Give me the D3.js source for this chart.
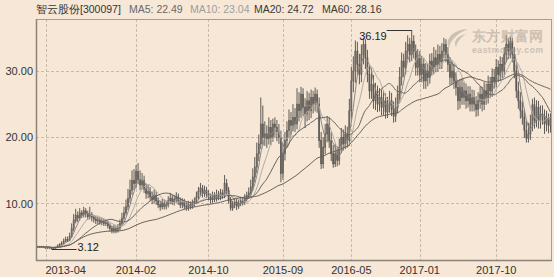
<!DOCTYPE html>
<html>
<head>
<meta charset="utf-8">
<script src="https://cdn.jsdelivr.net/npm/d3@7"></script>
<style>
body { margin: 0; background: #f6e7d6; }
text { font-family: "Liberation Sans", Arial, sans-serif; }
</style>
</head>
<body>
<div id="chart"></div>
<script>
// weekly candles
var opens = [
  3.4, 3.5, 3.4, 3.5, 3.4, 3.3, 3.4, 3.3, 3.2, 3.3,
  3.4, 3.6, 3.8, 4.0, 4.3, 4.6, 4.5, 5.0, 6.2, 7.4,
  8.2, 7.8, 8.6, 8.3, 8.9, 8.5, 8.0, 8.3, 7.9, 7.6,
  7.4, 7.5, 7.2, 7.3, 7.0, 7.1, 6.6, 6.2, 5.9, 6.2,
  5.9, 6.3, 7.0, 7.8, 8.6, 9.5, 10.8, 12.0, 13.5, 13.0,
  14.8, 13.6, 12.8, 13.5, 12.2, 11.5, 11.8, 11.0, 10.6, 11.2,
  10.4, 9.8, 9.5, 10.0, 9.6, 9.8, 10.4, 10.8, 10.2, 10.6,
  11.0, 10.3, 9.8, 10.2, 9.6, 9.4, 9.8, 9.6, 10.0, 10.3,
  11.0, 11.8, 12.3, 11.5, 12.0, 11.4, 11.0, 10.6, 11.2, 10.8,
  11.4, 11.0, 11.6, 11.2, 13.0, 12.0, 10.5, 9.3, 9.8, 10.2,
  9.6, 10.0, 10.4, 10.2, 10.8, 11.2, 11.6, 12.5, 14.0, 15.5,
  17.5, 19.0, 22.0, 20.0, 20.5, 19.8, 21.5, 20.0, 22.0, 21.5,
  20.8, 20.0, 14.5, 17.5, 19.5, 21.0, 22.5, 21.8, 23.0, 22.0,
  25.0, 24.0, 26.5, 24.5, 23.5, 25.5, 24.0, 26.0, 25.0, 26.5,
  25.0, 19.5, 16.0, 18.5, 20.5, 22.0, 19.5, 17.5, 16.0, 17.5,
  16.5, 18.5, 20.0, 19.0, 20.5, 19.5, 24.0, 28.5, 30.0, 33.0,
  31.0, 29.5, 32.5, 34.0, 32.0, 29.5, 27.0, 28.0, 25.5, 26.5,
  25.0, 26.0, 24.5, 25.5, 23.8, 24.8, 25.5, 24.2, 23.2, 24.5,
  26.5, 29.0, 31.5, 30.5, 33.0, 34.0, 32.5, 34.5, 33.0, 30.5,
  32.0, 29.5, 31.0, 28.5, 30.0, 29.0, 31.5, 30.5, 32.0, 31.0,
  32.5, 31.5, 33.0, 34.0, 32.5, 31.0, 29.0, 30.0, 28.5, 27.5,
  25.5, 27.5, 26.0, 27.0, 25.5, 26.5, 25.0, 26.0, 25.0, 24.2,
  25.5, 26.5, 25.0, 27.0, 26.0, 28.0, 27.0, 29.0, 28.5, 30.5,
  29.5, 31.0, 30.0, 32.5, 34.0, 33.0, 34.5, 32.5, 30.0, 27.0,
  25.5, 24.0, 23.0, 21.0, 19.8, 20.5, 22.0, 24.9, 22.5, 24.5,
  22.5, 23.5, 23.2, 22.0, 22.8, 21.8
];
var closes = [
  3.5, 3.4, 3.5, 3.4, 3.3, 3.4, 3.3, 3.2, 3.3, 3.4,
  3.6, 3.8, 4.0, 4.3, 4.6, 4.5, 5.0, 6.2, 7.5, 8.2,
  7.8, 8.6, 8.3, 8.9, 8.5, 8.0, 8.3, 7.9, 7.6, 7.4,
  7.5, 7.2, 7.3, 7.0, 7.1, 6.6, 6.2, 5.9, 6.2, 5.9,
  6.3, 7.0, 7.8, 8.6, 9.5, 10.8, 12.0, 13.5, 13.0, 14.8,
  13.6, 12.8, 13.5, 12.2, 11.5, 11.8, 11.0, 10.6, 11.2, 10.4,
  9.8, 9.5, 10.0, 9.6, 9.8, 10.4, 10.8, 10.2, 10.6, 11.0,
  10.3, 9.8, 10.2, 9.6, 9.4, 9.8, 9.6, 10.0, 10.3, 11.0,
  11.8, 12.3, 11.5, 12.0, 11.4, 11.0, 10.6, 11.2, 10.8, 11.4,
  11.0, 11.6, 11.2, 13.0, 12.0, 10.5, 9.3, 9.8, 10.2, 9.6,
  10.0, 10.4, 10.2, 10.8, 11.2, 11.6, 12.5, 14.0, 15.5, 17.5,
  19.0, 22.0, 20.0, 20.5, 19.8, 21.5, 20.0, 22.0, 21.5, 20.8,
  20.0, 14.5, 17.5, 19.5, 21.0, 22.5, 21.8, 23.0, 22.0, 25.0,
  24.0, 26.5, 24.5, 23.5, 25.5, 24.0, 26.0, 25.0, 26.5, 25.0,
  19.5, 16.0, 18.5, 20.5, 22.0, 19.5, 17.5, 16.0, 17.5, 16.5,
  18.5, 20.0, 19.0, 20.5, 19.5, 24.0, 28.5, 30.0, 33.0, 31.0,
  29.5, 32.5, 34.0, 32.0, 29.5, 27.0, 28.0, 25.5, 26.5, 25.0,
  26.0, 24.5, 25.5, 23.8, 24.8, 25.5, 24.2, 23.2, 24.5, 26.5,
  29.0, 31.5, 30.5, 33.0, 34.0, 32.5, 34.5, 33.0, 30.5, 32.0,
  29.5, 31.0, 28.5, 30.0, 29.0, 31.5, 30.5, 32.0, 31.0, 32.5,
  31.5, 33.0, 34.0, 32.5, 31.0, 29.0, 30.0, 28.5, 27.5, 25.5,
  27.5, 26.0, 27.0, 25.5, 26.5, 25.0, 26.0, 25.0, 24.2, 25.5,
  26.5, 25.0, 27.0, 26.0, 28.0, 27.0, 29.0, 28.5, 30.5, 29.5,
  31.0, 30.0, 32.5, 34.0, 33.0, 34.5, 32.5, 30.0, 27.0, 25.5,
  24.0, 23.0, 21.0, 19.8, 20.5, 22.0, 24.9, 22.5, 24.5, 22.5,
  23.5, 23.2, 22.0, 22.8, 21.8, 22.6
];
var highs = [
  3.6, 3.6, 3.6, 3.6, 3.5, 3.5, 3.5, 3.4, 3.4, 3.5,
  3.8, 4.0, 4.3, 4.7, 5.0, 5.0, 5.6, 7.0, 8.4, 9.2,
  8.8, 9.3, 9.0, 9.5, 9.3, 8.9, 9.5, 8.7, 8.3, 8.1,
  8.0, 7.9, 7.8, 7.7, 7.6, 7.4, 7.0, 6.6, 6.8, 6.6,
  6.9, 7.6, 8.6, 9.5, 10.6, 12.2, 13.6, 15.0, 15.2, 15.8,
  16.1, 15.0, 14.6, 14.2, 13.0, 12.8, 12.5, 11.8, 12.1, 11.8,
  10.9, 10.4, 10.7, 10.6, 10.4, 11.1, 11.6, 11.3, 11.2, 11.7,
  11.5, 10.9, 10.8, 10.7, 10.2, 10.4, 10.3, 10.6, 10.9, 11.8,
  12.5, 13.1, 12.8, 12.7, 12.5, 12.0, 11.5, 11.8, 11.7, 12.1,
  11.9, 12.2, 12.1, 14.3, 13.7, 12.5, 11.0, 10.4, 10.8, 10.7,
  10.6, 11.0, 10.9, 11.4, 11.8, 12.4, 13.6, 15.3, 17.0, 19.2,
  20.4, 26.0, 24.8, 22.4, 21.8, 23.0, 22.6, 22.8, 23.0, 22.6,
  22.0, 21.0, 19.2, 20.8, 22.4, 24.2, 23.8, 25.0, 24.4, 27.4,
  26.8, 27.6, 27.4, 25.9, 27.0, 26.7, 27.2, 27.0, 27.5, 27.2,
  26.0, 20.8, 20.0, 22.0, 23.2, 23.0, 20.8, 18.8, 19.0, 18.6,
  19.8, 21.4, 21.2, 21.8, 21.6, 25.8, 30.6, 32.2, 34.6, 34.4,
  32.6, 34.0, 35.0, 34.8, 33.2, 30.8, 30.4, 29.4, 28.2, 27.8,
  27.4, 27.2, 27.0, 26.6, 26.1, 27.0, 26.7, 25.4, 26.0, 27.8,
  30.6, 32.8, 32.6, 34.4, 35.4, 35.0, 36.19, 35.4, 34.0, 33.3,
  33.0, 32.3, 32.0, 31.2, 31.1, 32.6, 32.7, 33.6, 33.2, 34.0,
  33.8, 34.2, 35.0, 34.8, 33.6, 32.1, 31.5, 31.1, 29.8, 28.6,
  28.8, 28.9, 28.3, 28.1, 27.7, 27.7, 27.2, 27.1, 26.2, 26.8,
  27.7, 27.6, 28.3, 28.1, 29.3, 29.1, 30.4, 30.3, 31.8, 31.6,
  32.2, 32.1, 33.6, 35.4, 35.0, 35.2, 35.0, 33.6, 31.0, 28.4,
  26.8, 25.4, 24.2, 22.4, 22.2, 23.4, 25.8, 26.0, 25.6, 25.5,
  24.8, 24.8, 24.2, 24.0, 23.6, 23.6
];
var lows = [
  3.3, 3.3, 3.3, 3.3, 3.2, 3.2, 3.2, 3.12, 3.2, 3.2,
  3.3, 3.5, 3.7, 3.9, 4.2, 4.2, 4.3, 4.8, 5.8, 7.0,
  7.2, 7.4, 7.8, 7.9, 7.9, 7.5, 7.6, 7.3, 7.1, 6.9,
  6.9, 6.8, 6.7, 6.6, 6.6, 6.2, 5.8, 5.5, 5.5, 5.5,
  5.6, 5.9, 6.6, 7.4, 8.2, 9.0, 10.1, 11.3, 12.0, 12.3,
  12.9, 12.0, 12.1, 11.6, 10.7, 10.8, 10.4, 9.9, 10.0, 9.8,
  9.3, 8.9, 9.1, 9.1, 9.1, 9.4, 9.9, 9.8, 9.7, 10.1,
  9.8, 9.3, 9.3, 9.1, 8.9, 8.9, 9.1, 9.2, 9.5, 9.9,
  10.6, 11.2, 10.9, 11.0, 10.8, 10.5, 10.0, 10.1, 10.2, 10.3,
  10.5, 10.5, 10.7, 10.8, 11.4, 10.0, 8.9, 8.9, 9.3, 9.0,
  9.2, 9.6, 9.7, 9.8, 10.3, 10.7, 11.1, 11.9, 13.2, 14.6,
  16.4, 18.2, 18.8, 18.7, 18.4, 18.9, 18.8, 19.3, 19.9, 19.4,
  19.0, 13.2, 13.6, 16.5, 18.4, 19.9, 20.4, 20.9, 20.8, 21.2,
  22.4, 22.9, 23.2, 21.4, 22.4, 22.6, 22.9, 23.6, 23.9, 23.7,
  18.4, 15.2, 15.3, 17.4, 19.4, 18.4, 16.4, 15.4, 15.5, 15.6,
  15.8, 17.6, 18.0, 18.2, 18.4, 18.7, 22.8, 26.8, 28.2, 29.3,
  28.0, 28.3, 31.0, 30.3, 28.3, 25.8, 25.8, 24.3, 24.1, 23.8,
  23.9, 23.3, 23.3, 22.8, 22.9, 23.7, 23.2, 22.2, 22.3, 23.6,
  25.6, 27.8, 29.1, 29.5, 31.8, 31.3, 31.5, 31.9, 29.3, 29.3,
  28.3, 28.3, 27.3, 27.3, 27.7, 28.1, 29.3, 29.5, 29.8, 29.9,
  30.3, 30.3, 31.9, 31.3, 29.9, 27.9, 28.0, 27.3, 26.3, 24.1,
  24.3, 24.9, 24.9, 24.3, 24.5, 23.9, 23.9, 23.9, 23.1, 23.2,
  24.3, 23.9, 24.1, 24.9, 25.1, 25.9, 26.1, 27.3, 27.5, 28.3,
  28.5, 28.9, 29.1, 31.3, 31.8, 31.9, 31.3, 28.9, 25.9, 24.3,
  22.8, 21.9, 19.9, 19.2, 19.2, 19.6, 20.9, 21.3, 21.5, 21.3,
  21.3, 21.9, 20.5, 20.9, 20.6, 20.7
];

var tickIndex = [4, 49, 85, 122, 156, 190, 228];
var tickLabels = ["2013-04", "2014-02", "2014-10", "2015-09", "2016-05", "2017-01", "2017-10"];
var yTicks = [10, 20, 30];

var title = "智云股份[300097]";
var maPeriods = [5, 10, 20, 60];
var maLabels = ["MA5: 22.49", "MA10: 23.04", "MA20: 24.72", "MA60: 28.16"];
var maColors = ["#8a8784", "#b3aca5", "#676360", "#6a6158"];
var maTextColors = ["#6a6a6a", "#9e9e9e", "#3a3a3a", "#3a3a3a"];
var maTextX = [129, 190, 254, 322];

var svgWidth = 554;
var svgHeight = 277;
var margin = { top: 19, right: 2, bottom: 17, left: 36 };
var width = svgWidth - margin.left - margin.right;
var height = svgHeight - margin.top - margin.bottom;
var bg = "#f6e7d6";
var candleColor = "#5f5a55";

var svg = d3.select("#chart")
  .append("svg")
  .attr("width", svgWidth)
  .attr("height", svgHeight)
  .style("display", "block");

svg.append("rect")
  .attr("width", svgWidth)
  .attr("height", svgHeight)
  .attr("fill", bg);

var chartGroup = svg.append("g")
  .attr("transform", `translate(${margin.left}, ${margin.top})`);

var n = closes.length;
var xScale = d3.scaleBand()
  .domain(d3.range(n))
  .range([0, width])
  .padding(0.45);
var yScale = d3.scaleLinear()
  .domain([1.47, 37.85])
  .range([height, 0]);

var cx = i => xScale(i) + xScale.bandwidth() / 2;

// grid
chartGroup.append("g").selectAll("line")
  .data(yTicks)
  .enter()
  .append("line")
  .attr("x1", 0).attr("x2", width)
  .attr("y1", d => Math.round(yScale(d)) + 0.5)
  .attr("y2", d => Math.round(yScale(d)) + 0.5)
  .attr("stroke", "#c9b9a6")
  .attr("stroke-dasharray", "3,2");

chartGroup.append("g").selectAll("line")
  .data(tickIndex)
  .enter()
  .append("line")
  .attr("x1", d => Math.round(cx(d)) + 0.5)
  .attr("x2", d => Math.round(cx(d)) + 0.5)
  .attr("y1", 0).attr("y2", height)
  .attr("stroke", "#c9b9a6")
  .attr("stroke-dasharray", "3,2");

// candles: down filled, up hollow
var candles = chartGroup.append("g").selectAll("g")
  .data(d3.range(n))
  .enter()
  .append("g");

candles.append("line")
  .attr("x1", i => cx(i)).attr("x2", i => cx(i))
  .attr("y1", i => yScale(highs[i]))
  .attr("y2", i => yScale(lows[i]))
  .attr("stroke", candleColor)
  .attr("stroke-width", 1);

candles.append("rect")
  .attr("x", i => xScale(i))
  .attr("width", xScale.bandwidth())
  .attr("y", i => yScale(Math.max(opens[i], closes[i])))
  .attr("height", i => Math.max(1, Math.abs(yScale(opens[i]) - yScale(closes[i]))))
  .attr("fill", i => closes[i] >= opens[i] ? "#807a74" : candleColor)
  .attr("stroke", candleColor)
  .attr("stroke-width", 0.6);

// moving averages over the visible closes
maPeriods.forEach(function(p, k) {
  var ma = closes.map(function(c, i) {
    return d3.mean(closes.slice(Math.max(0, i - p + 1), i + 1));
  });
  var line = d3.line()
    .x((d, i) => cx(i))
    .y(d => yScale(d))
    .curve(d3.curveMonotoneX);
  chartGroup.append("path")
    .datum(ma)
    .attr("d", line)
    .attr("fill", "none")
    .attr("stroke", maColors[k])
    .attr("stroke-width", 1);
});

// frame
chartGroup.append("rect")
  .attr("x", 0.5).attr("y", 0.5)
  .attr("width", width - 1).attr("height", height)
  .attr("fill", "none")
  .attr("stroke", "#a89d90");
chartGroup.append("path")
  .attr("d", `M0.5,0V${height}.5H${width}`)
  .attr("fill", "none")
  .attr("stroke", "#8d8277")
  .attr("stroke-width", 1.5);

// axes
var leftAxis = d3.axisLeft(yScale)
  .tickValues(yTicks)
  .tickFormat(d3.format(".2f"))
  .tickSize(0)
  .tickPadding(3);
var yAxis = chartGroup.append("g").call(leftAxis);
yAxis.select(".domain").remove();
yAxis.selectAll("text")
  .attr("font-size", "11px")
  .attr("font-family", "Liberation Sans, Arial, sans-serif")
  .attr("fill", "#333");

var bottomAxis = d3.axisBottom(xScale)
  .tickValues(tickIndex)
  .tickFormat((d, i) => tickLabels[i])
  .tickSize(0)
  .tickPadding(6);
var xAxis = chartGroup.append("g")
  .attr("transform", `translate(0, ${height})`)
  .call(bottomAxis);
xAxis.select(".domain").remove();
xAxis.selectAll("text")
  .attr("font-size", "11px")
  .attr("font-family", "Liberation Sans, Arial, sans-serif")
  .attr("fill", "#333")
  .attr("text-anchor", (d, i) => i === 0 ? "start" : "middle");

// high / low markers
var hi = d3.maxIndex(highs);
var lo = d3.minIndex(lows);
var hy = Math.round(yScale(highs[hi])) + 0.5;
chartGroup.append("path")
  .attr("d", `M${cx(hi)},${hy}H${cx(hi) - 25}`)
  .attr("stroke", "#333").attr("fill", "none");
chartGroup.append("text")
  .attr("x", cx(hi) - 25).attr("y", hy + 9)
  .attr("text-anchor", "end")
  .attr("font-size", "11px")
  .attr("fill", "#222")
  .text(d3.format(".2f")(highs[hi]));

var ly = Math.round(yScale(lows[lo])) + 0.5;
chartGroup.append("path")
  .attr("d", `M${cx(lo)},${ly}H${cx(lo) + 25}`)
  .attr("stroke", "#333").attr("fill", "none");
chartGroup.append("text")
  .attr("x", cx(lo) + 26).attr("y", ly + 1)
  .attr("font-size", "11px")
  .attr("fill", "#222")
  .text(d3.format(".2f")(lows[lo]));

// header
svg.append("text")
  .attr("x", 36).attr("y", 13)
  .attr("font-size", "10.5px")
  .attr("fill", "#333")
  .text(title);
maLabels.forEach(function(t, k) {
  svg.append("text")
    .attr("x", maTextX[k]).attr("y", 13)
    .attr("font-size", "10.5px")
    .attr("fill", maTextColors[k])
    .text(t);
});

// watermark
var wm = svg.append("g").attr("opacity", 0.55);
wm.append("path")
  .attr("d", "M468,29 C452,30 444,40 449,48 C450,41 456,34 468,29 Z M466,34 C457,36 453,42 456,47 C457,42 460,38 466,34 Z")
  .attr("fill", "#aaa29a");
wm.append("text")
  .attr("x", 472).attr("y", 41)
  .attr("font-size", "14px")
  .attr("font-weight", "bold")
  .attr("font-family", "Noto Sans CJK SC, sans-serif")
  .attr("fill", "#aaa29a")
  .attr("textLength", 71)
  .text("东方财富网");
wm.append("text")
  .attr("x", 472).attr("y", 53)
  .attr("font-size", "8.5px")
  .attr("font-weight", "bold")
  .attr("textLength", 71)
  .attr("fill", "#aaa29a")
  .text("eastmoney.com");
</script>
</body>
</html>
